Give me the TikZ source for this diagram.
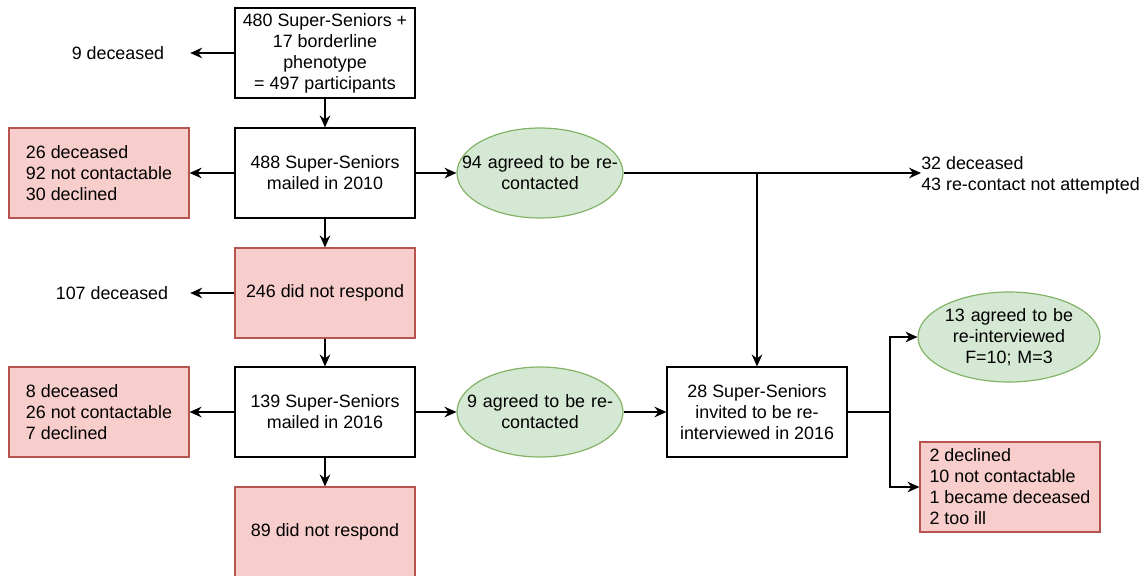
\documentclass[tikz,border=0pt]{standalone}
\usepackage{fontspec}
\setmainfont{Liberation Sans}
\usetikzlibrary{shapes.geometric,arrows.meta}
\definecolor{redfill}{HTML}{F8CECC}
\definecolor{redline}{HTML}{B85450}
\definecolor{greenfill}{HTML}{D5E8D4}
\definecolor{greenline}{HTML}{82B366}
\tikzset{
	plainbox/.style={draw,line width=0.9pt,minimum width=135pt,minimum height=67.5pt,align=center,inner sep=2pt},
	redbox/.style={plainbox,draw=redline,fill=redfill},
	agreed/.style={ellipse,draw=greenline,fill=greenfill,line width=0.9pt,text width=120pt,align=center,
		inner xsep=-16.25pt,inner ysep=0pt,minimum width=124.5pt,minimum height=67.5pt},
	note/.style={inner sep=0pt},
	flow/.style={line width=0.9pt,-{Stealth[length=9pt,width=8pt,inset=3pt]}}
}
\begin{document}
\begin{tikzpicture}[x=0.75pt,y=-0.75pt,font=\fontsize{13.4}{15.75}\selectfont]
	\useasboundingbox (0,0) rectangle (1148,575);
	% main column
	\node[plainbox] (start) at (325,53) {480 Super-Seniors +\\17 borderline\\phenotype\\= 497 participants};
	\node[plainbox] (mail10) at (325,173) {488 Super-Seniors\\mailed in 2010};
	\node[redbox] (noresp10) at (325,293) {246 did not respond};
	\node[plainbox] (mail16) at (325,412) {139 Super-Seniors\\mailed in 2016};
	\node[redbox] (noresp16) at (325,532) {89 did not respond};
	% losses on the left
	\node[note,minimum width=108pt] (dec1) at (118,53) {9 deceased};
	\node[redbox,align=left] (lost10) at (99,173) {26 deceased\\92 not contactable\\30 declined};
	\node[note,minimum width=117pt] (dec2) at (112,293) {107 deceased};
	\node[redbox,align=left] (lost16) at (99,412) {8 deceased\\26 not contactable\\7 declined};
	% agreed and re-interview
	\node[agreed] (agree94) at (540,173) {94 agreed to be re-\\contacted};
	\node[agreed] (agree9) at (540,412) {9 agreed to be re-\\contacted};
	\node[note,anchor=west,align=left] (dec3) at (921,175) {32 deceased\\43 re-contact not attempted};
	\node[plainbox] (invite) at (757,412) {28 Super-Seniors\\invited to be re-\\interviewed in 2016};
	\node[agreed,minimum width=136.5pt] (agree13) at (1009,337) {13 agreed to be\\re-interviewed\\F=10; M=3};
	\node[redbox,align=left] (lost28) at (1010,487) {2 declined\\10 not contactable\\1 became deceased\\2 too ill};
	\coordinate (join) at (invite |- agree94);
	\coordinate (split) at (890,412);
	% connectors
	\draw[flow] (start) -- (mail10);
	\draw[flow] (mail10) -- (noresp10);
	\draw[flow] (noresp10) -- (mail16);
	\draw[flow] (mail16) -- (noresp16);
	\draw[flow] (start) -- (dec1);
	\draw[flow] (mail10) -- (lost10);
	\draw[flow] (noresp10) -- (dec2);
	\draw[flow] (mail16) -- (lost16);
	\draw[flow] (mail10) -- (agree94);
	\draw[flow] (mail16) -- (agree9);
	\draw[flow] (agree9) -- (invite);
	\draw[flow] (agree94.east) -- (agree94.east -| dec3.west); % not re-contacted
	\draw[flow] (join) -- (invite);
	\draw[line width=0.9pt] (invite) -- (split);
	\draw[flow] (split) |- (agree13);
	\draw[flow] (split) |- (lost28);
\end{tikzpicture}
\end{document}
